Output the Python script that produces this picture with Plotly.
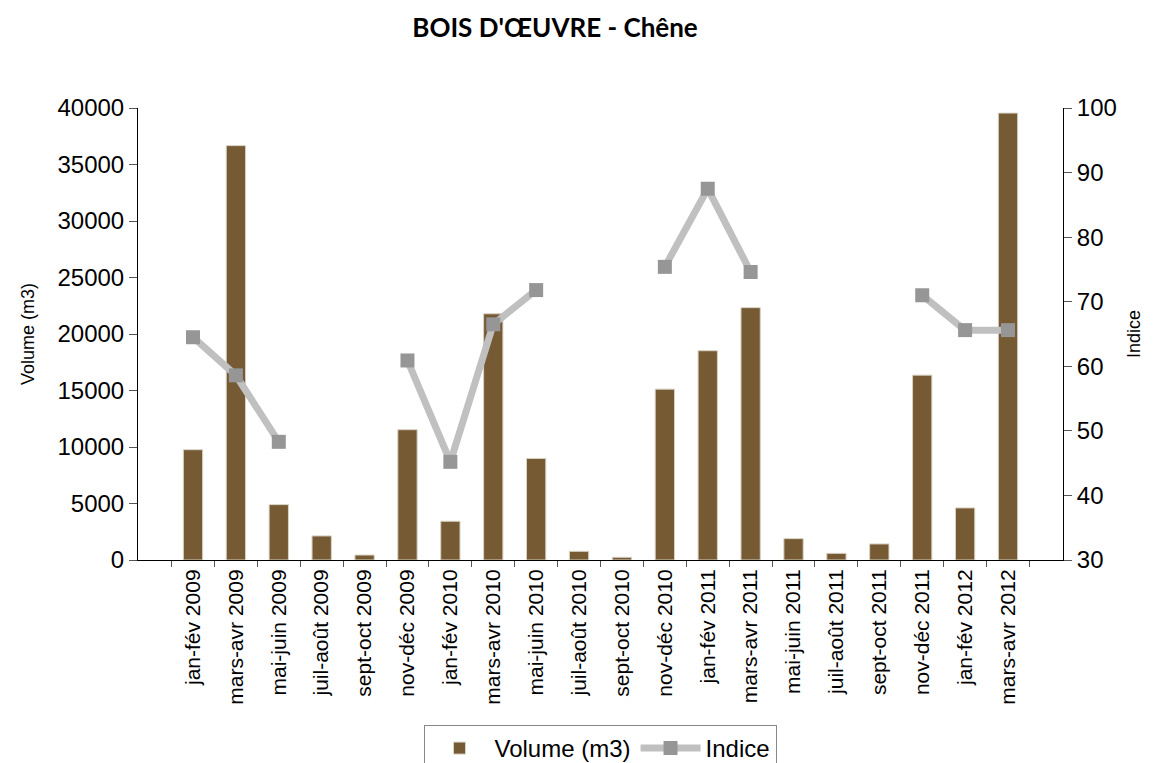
import plotly.graph_objects as go

categories = ["jan-fév 2009", "mars-avr 2009", "mai-juin 2009", "juil-août 2009", "sept-oct 2009",
              "nov-déc 2009", "jan-fév 2010", "mars-avr 2010", "mai-juin 2010", "juil-août 2010",
              "sept-oct 2010", "nov-déc 2010", "jan-fév 2011", "mars-avr 2011", "mai-juin 2011",
              "juil-août 2011", "sept-oct 2011", "nov-déc 2011", "jan-fév 2012", "mars-avr 2012"]

volume = [9760, 36670, 4900, 2130, 440, 11530, 3430, 21790, 8990, 770,
          240, 15120, 18520, 22330, 1890, 590, 1420, 16360, 4610, 39550]

indice = [64.5, 58.6, 48.3, None, None, 60.9, 45.2, 66.5, 71.8, None,
          None, 75.4, 87.5, 74.6, None, None, None, 71.0, 65.6, 65.6]

bar_color = "#755a34"
line_color = "#c0c0c0"
marker_color = "#969696"

# page body has an 8px default margin; compensate so the chart lands where the reference has it
W, H = 1145, 755

fig = go.Figure()
fig.add_trace(go.Bar(x=categories, y=volume, name="Volume (m3)",
                     marker=dict(color=bar_color, line=dict(color="#d9d2c5", width=1)),
                     yaxis="y"))
fig.add_trace(go.Scatter(x=categories, y=indice, name="Indice", mode="lines+markers",
                         line=dict(color=line_color, width=7),
                         marker=dict(symbol="square", size=14, color=marker_color),
                         connectgaps=False, yaxis="y2"))

fig.update_layout(
    width=W, height=H,
    paper_bgcolor="white", plot_bgcolor="white",
    margin=dict(l=130, r=90, t=100, b=203, autoexpand=False),
    font=dict(family="Liberation Sans, Arial, sans-serif", color="black"),
    title=dict(text="BOIS D'ŒUVRE - Chêne", x=547/W, xref="container", xanchor="center",
               y=1 - 20/H, yref="container", yanchor="middle",
               font=dict(family="Lato, sans-serif", size=26, color="black", weight="bold")),
    bargap=0.55,
    showlegend=True,
    legend=dict(orientation="h", x=592/W, xref="container", xanchor="center",
                y=1 - 717/H, yref="container", yanchor="top",
                bordercolor="#888888", borderwidth=1, bgcolor="white",
                font=dict(size=24), itemwidth=60),
    xaxis=dict(type="category", tickangle=-90, tickfont=dict(size=21), automargin=False,
               showline=True, linecolor="black", linewidth=1,
               ticks="outside", ticklen=6, tickcolor="#555", tickson="boundaries",
               showgrid=False),
    yaxis=dict(range=[0, 40000], dtick=5000, tickformat="d", tickfont=dict(size=24),
               automargin=False,
               title=dict(text="Volume (m3)", font=dict(size=18), standoff=18),
               showline=True, linecolor="black", linewidth=1,
               ticks="outside", ticklen=8, tickcolor="#555", showgrid=False, zeroline=False),
    yaxis2=dict(range=[30, 100], dtick=10, tickfont=dict(size=24), overlaying="y", side="right",
                automargin=False,
                title=dict(text="Indice", font=dict(size=18), standoff=11),
                showline=True, linecolor="black", linewidth=1,
                ticks="outside", ticklen=8, tickcolor="#555", showgrid=False, zeroline=False),
)

fig.write_html("out.html")
